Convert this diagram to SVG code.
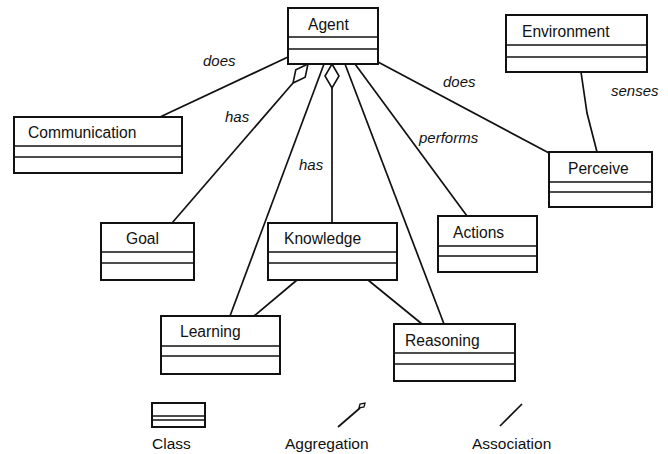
<svg xmlns="http://www.w3.org/2000/svg" width="668" height="454" viewBox="0 0 668 454">
<style>
.box{fill:#fff;stroke:#111;stroke-width:2}
.div{stroke:#111;stroke-width:1.6;fill:none}
.ln{stroke:#111;stroke-width:1.7;fill:none}
.dia{fill:#fff;stroke:#111;stroke-width:1.6}
.t{font-family:"Liberation Sans",Arial,sans-serif;font-size:15.6px;fill:#111}
.lab{font-family:"Liberation Sans",Arial,sans-serif;font-size:15px;font-style:italic;fill:#111}
.leg{font-family:"Liberation Sans",Arial,sans-serif;font-size:15.5px;fill:#111}
</style>
<rect width="668" height="454" fill="#fff"/>
<g id="connectors">
<line class="ln" x1="288" y1="57" x2="160" y2="117"/>
<line class="ln" x1="172" y1="223" x2="293" y2="83"/>
<polygon class="dia" points="308,64 305.2,77.2 293,83 295.8,69.8"/>
<line class="ln" x1="332" y1="223" x2="332" y2="88"/>
<polygon class="dia" points="332,64 339,76 332,88 325,76"/>
<line class="ln" x1="324" y1="64" x2="230" y2="316"/>
<line class="ln" x1="345" y1="64" x2="444" y2="324"/>
<line class="ln" x1="355" y1="64" x2="467" y2="216"/>
<line class="ln" x1="378" y1="62" x2="549" y2="153"/>
<polyline class="ln" points="581,72 587,113 597,152"/>
<line class="ln" x1="297" y1="280" x2="254" y2="316"/>
<polyline class="ln" points="368,280 395,302 422,324"/>
<text class="lab" x="203" y="66">does</text>
<text class="lab" x="225" y="122">has</text>
<text class="lab" x="299" y="170">has</text>
<text class="lab" x="443" y="87">does</text>
<text class="lab" x="419" y="143">performs</text>
<text class="lab" x="611" y="96">senses</text>
</g>
<g id="agent">
<rect class="box" x="288" y="8" width="90" height="56"/>
<line class="div" x1="288" y1="37" x2="378" y2="37"/>
<line class="div" x1="288" y1="49" x2="378" y2="49"/>
<text class="t" x="308" y="30">Agent</text>
</g>
<g id="communication">
<rect class="box" x="14" y="117" width="168" height="56"/>
<line class="div" x1="14" y1="146" x2="182" y2="146"/>
<line class="div" x1="14" y1="157" x2="182" y2="157"/>
<text class="t" x="28" y="138">Communication</text>
</g>
<g id="environment">
<rect class="box" x="506" y="15" width="141" height="57"/>
<line class="div" x1="506" y1="45" x2="647" y2="45"/>
<line class="div" x1="506" y1="57" x2="647" y2="57"/>
<text class="t" x="522" y="37">Environment</text>
</g>
<g id="perceive">
<rect class="box" x="549" y="152" width="103" height="55"/>
<line class="div" x1="549" y1="182" x2="652" y2="182"/>
<line class="div" x1="549" y1="192" x2="652" y2="192"/>
<text class="t" x="568" y="174">Perceive</text>
</g>
<g id="goal">
<rect class="box" x="101" y="223" width="93" height="57"/>
<line class="div" x1="101" y1="252" x2="194" y2="252"/>
<line class="div" x1="101" y1="263" x2="194" y2="263"/>
<text class="t" x="126" y="244">Goal</text>
</g>
<g id="knowledge">
<rect class="box" x="268" y="223" width="129" height="57"/>
<line class="div" x1="268" y1="252" x2="397" y2="252"/>
<line class="div" x1="268" y1="263" x2="397" y2="263"/>
<text class="t" x="284" y="244">Knowledge</text>
</g>
<g id="actions">
<rect class="box" x="438" y="216" width="99" height="56"/>
<line class="div" x1="438" y1="246" x2="537" y2="246"/>
<line class="div" x1="438" y1="256" x2="537" y2="256"/>
<text class="t" x="453" y="238">Actions</text>
</g>
<g id="learning">
<rect class="box" x="161" y="316" width="119" height="58"/>
<line class="div" x1="161" y1="346" x2="280" y2="346"/>
<line class="div" x1="161" y1="356" x2="280" y2="356"/>
<text class="t" x="180" y="337">Learning</text>
</g>
<g id="reasoning">
<rect class="box" x="394" y="324" width="121" height="57"/>
<line class="div" x1="394" y1="353" x2="515" y2="353"/>
<line class="div" x1="394" y1="364" x2="515" y2="364"/>
<text class="t" x="405" y="346">Reasoning</text>
</g>
<g id="legend">
<rect class="box" x="152" y="403" width="53" height="24"/>
<line class="div" x1="152" y1="416" x2="205" y2="416"/>
<line class="div" x1="152" y1="420" x2="205" y2="420"/>
<text class="leg" x="152" y="449">Class</text>
<line class="ln" x1="338" y1="427" x2="360" y2="408"/>
<polygon class="dia" style="stroke-width:1.3" points="359,408 360,404 365,403 364,407"/>
<text class="leg" x="285" y="449">Aggregation</text>
<line class="ln" x1="500" y1="426" x2="522" y2="404"/>
<text class="leg" x="472" y="449">Association</text>
</g>
</svg>
